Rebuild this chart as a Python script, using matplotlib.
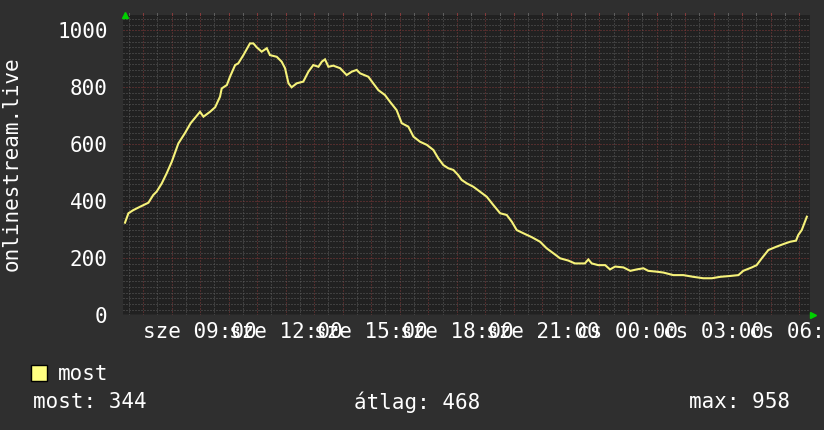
import matplotlib
matplotlib.use("Agg")
import matplotlib.pyplot as plt
from matplotlib.patches import Rectangle

# hours since Wednesday 06:00
hours = [0.37, 0.49, 0.66, 0.90, 1.19, 1.36, 1.48, 1.66, 1.83, 2.01, 2.24, 2.47, 2.67,
         3.00, 3.12, 3.35, 3.53, 3.70, 3.76, 3.94, 4.05, 4.23, 4.34, 4.52, 4.75, 4.87,
         4.99, 5.16, 5.34, 5.45, 5.69, 5.86, 5.98, 6.10, 6.21, 6.39, 6.62, 6.80, 6.97,
         7.15, 7.27, 7.38, 7.50, 7.67, 7.91, 8.14, 8.32, 8.49, 8.61, 8.90, 9.07, 9.25,
         9.48, 9.66, 9.89, 10.07, 10.30, 10.48, 10.71, 10.95, 11.18, 11.35, 11.53, 11.70,
         11.88, 12.05, 12.17, 12.35, 12.58, 12.81, 13.05, 13.28, 13.52, 13.75, 13.93,
         14.10, 14.33, 14.63, 14.92, 15.15, 15.38, 15.62, 15.91, 16.14, 16.49, 16.61,
         16.73, 16.96, 17.20, 17.37, 17.55, 17.84, 18.08, 18.31, 18.54, 18.71, 19.01,
         19.24, 19.59, 19.94, 20.29, 20.64, 20.94, 21.23, 21.58, 21.87, 22.04, 22.34,
         22.51, 22.69, 22.92, 23.21, 23.45, 23.68, 23.89, 23.97, 24.09, 24.27]
values = [325, 358, 369, 381, 395, 422, 434, 463, 498, 539, 603, 639, 674,
          714, 697, 714, 730, 767, 796, 808, 837, 878, 884, 913, 954, 954,
          940, 925, 937, 913, 907, 890, 867, 814, 800, 814, 820, 855, 878,
          872, 890, 898, 872, 876, 867, 843, 855, 861, 849, 837, 814, 790,
          773, 749, 720, 674, 662, 627, 609, 598, 580, 551, 527, 516,
          510, 492, 475, 463, 451, 434, 416, 387, 358, 352, 328,
          299, 288, 274, 258, 235, 218, 200, 192, 182, 182, 196,
          182, 176, 176, 161, 171, 168, 156, 161, 165, 156, 153,
          150, 141, 141, 135, 130, 130, 135, 138, 141, 156, 168,
          176, 200, 229, 241, 250, 258, 262, 282, 299, 346]

tick_hours = [3, 6, 9, 12, 15, 18, 21, 24]
tick_labels = ["sze 09:00", "sze 12:00", "sze 15:00", "sze 18:00",
               "sze 21:00", "cs 00:00", "cs 03:00", "cs 06:00"]
y_ticks = [0, 200, 400, 600, 800, 1000]

series_name = "most"
y_title = "onlinestream.live"
stats = {"most": 344, "átlag": 468, "max": 958}

W, H = 824, 430
BG = "#2f2f2f"
PLOT_BG = "#212121"
LINE = "#f6f27a"
MAJOR = "#843a3a"
MINOR = "#5e5e5e"
FONT = "DejaVu Sans Mono"
FS = 15

fig = plt.figure(figsize=(W / 100, H / 100), dpi=100, facecolor=BG)
left, right, top, bottom = 123, 810, 15, 315.3
ax = fig.add_axes([left / W, (H - bottom) / H, (right - left) / W, (bottom - top) / H])
ax.set_facecolor(PLOT_BG)

x0 = 0.30
x1 = x0 + (right - left) / 28.53
ax.set_xlim(x0, x1)
ax.set_ylim(0, (bottom - top) / 0.285)

# grid
dot = (0, (1, 2))
h = 0.5
while h < x1:
    is_major = abs(h - round(h)) < 1e-6
    if h > x0:
        ax.axvline(h, color=MAJOR if is_major else MINOR, lw=0.72, ls=dot, zorder=1)
        ax.plot([h, h], [1.0, 1.008], transform=ax.get_xaxis_transform(),
                color=MAJOR if is_major else MINOR, lw=0.72, clip_on=False)
    h += 0.5
for v in range(20, 1060, 20):
    ax.axhline(v, color=MAJOR if v % 200 == 0 else MINOR, lw=0.72, ls=dot, zorder=1)

ax.plot(hours, values, color=LINE, lw=1.5, zorder=3, solid_joinstyle="miter")

for s in ax.spines.values():
    s.set_visible(False)
ax.axhline(0, color="#484848", lw=1.0, zorder=2)

ax.set_xticks(tick_hours)
ax.set_xticklabels(tick_labels, fontfamily=FONT, fontsize=FS, color="white")
ax.set_yticks(y_ticks)
ax.set_yticklabels([str(v) for v in y_ticks], fontfamily=FONT, fontsize=FS, color="white")
ax.tick_params(axis="x", length=0, pad=5)
ax.tick_params(axis="y", length=0, pad=11)

# arrows
ax.plot([x0 + 0.07], [1.0], transform=ax.get_xaxis_transform(), marker="^",
        color="#00d000", ms=5, clip_on=False, zorder=5)
ax.plot([1.005], [0], transform=ax.get_yaxis_transform(), marker=">",
        color="#00d000", ms=5, clip_on=False, zorder=5)

fig.text(12 / W, (H - 164) / H, y_title, rotation=90, ha="center", va="center",
         fontfamily=FONT, fontsize=FS, color="white")

# legend
fig.patches.append(Rectangle((31 / W, (H - 381) / H), 16 / W, 16 / H,
                             transform=fig.transFigure, facecolor="#ffff80",
                             edgecolor="black", lw=1.0))
fig.text(58 / W, (H - 374) / H, series_name, ha="left", va="center",
         fontfamily=FONT, fontsize=FS, color="white")
keys = list(stats.keys())
fig.text(33 / W, (H - 402) / H, f"{keys[0]}: {stats[keys[0]]}", ha="left", va="center",
         fontfamily=FONT, fontsize=FS, color="white")
fig.text(354 / W, (H - 402) / H, f"{keys[1]}: {stats[keys[1]]}", ha="left", va="center",
         fontfamily=FONT, fontsize=FS, color="white")
fig.text(790 / W, (H - 402) / H, f"{keys[2]}: {stats[keys[2]]}", ha="right", va="center",
         fontfamily=FONT, fontsize=FS, color="white")

fig.savefig("out.png", dpi=100, facecolor=BG)
